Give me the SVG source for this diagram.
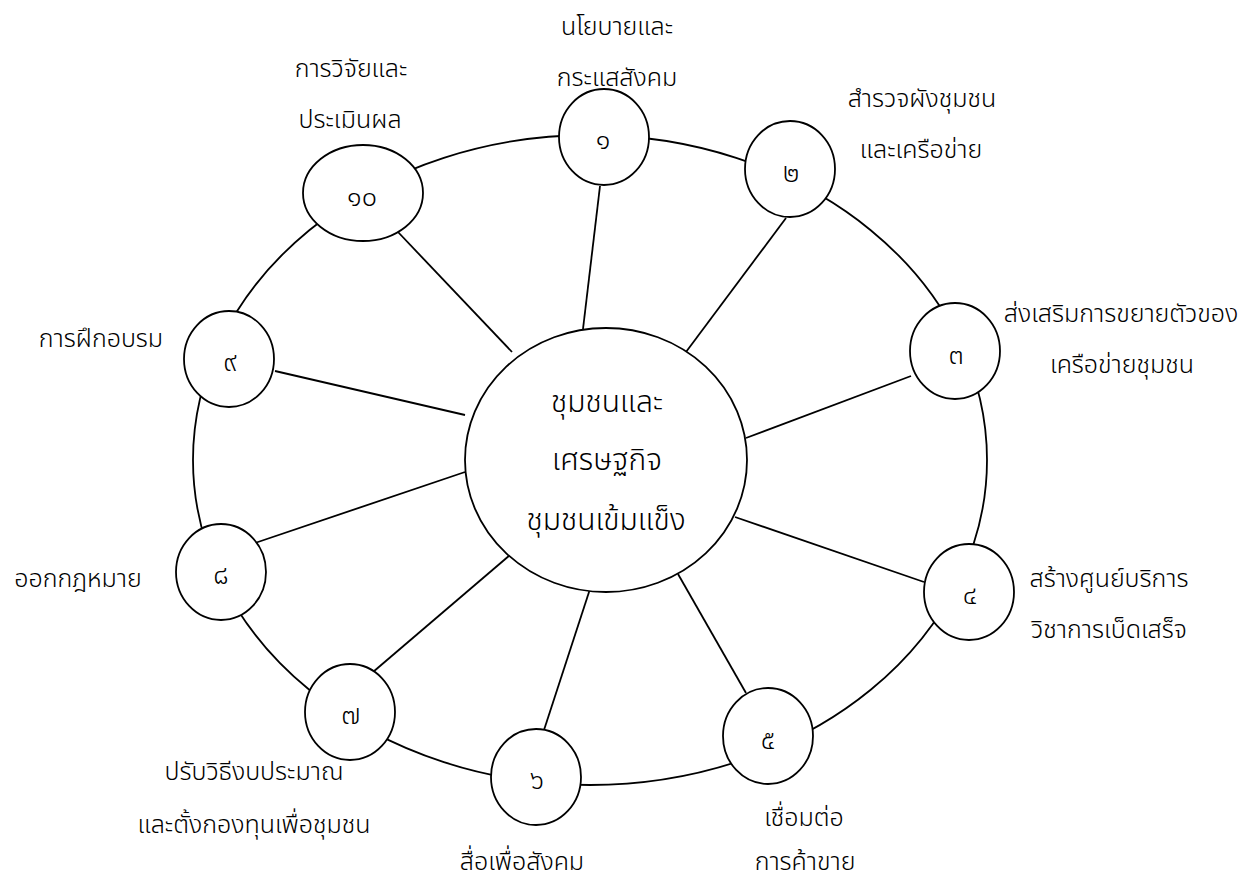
<svg xmlns="http://www.w3.org/2000/svg" width="1258" height="880" viewBox="0 0 1258 880">
<style>
.ln{stroke:#000;stroke-width:1.8;fill:none}
.nd{stroke:#000;stroke-width:1.8;fill:#fff}
.lb{font-family:"Noto Sans Thai","Noto Sans","DejaVu Sans",sans-serif;font-size:25px;font-weight:300;fill:#000;text-anchor:middle}
.num{font-family:"Noto Sans Thai","Noto Sans","DejaVu Sans",sans-serif;font-size:27px;font-weight:300;fill:#000;text-anchor:middle}
.ct{font-family:"Noto Sans Thai","Noto Sans","DejaVu Sans",sans-serif;font-size:30px;font-weight:300;fill:#000;text-anchor:middle}
</style>
<rect width="1258" height="880" fill="#fff"/>
<g id="connectors">
<ellipse class="ln" cx="590" cy="460" rx="397" ry="325"/>
<line class="ln" x1="600" y1="186" x2="583" y2="329"/>
<line class="ln" x1="786" y1="218" x2="686" y2="352"/>
<line class="ln" x1="911" y1="376" x2="746" y2="438"/>
<line class="ln" x1="924" y1="582" x2="735" y2="517"/>
<line class="ln" x1="746" y1="693" x2="678" y2="574"/>
<line class="ln" x1="544" y1="730" x2="590" y2="589"/>
<line class="ln" x1="373" y1="672" x2="510" y2="555"/>
<line class="ln" x1="255" y1="543" x2="465" y2="472"/>
<line class="ln" x1="275" y1="371" x2="465" y2="415"/>
<line class="ln" x1="398" y1="232" x2="512" y2="352"/>
</g>
<g id="center">
<ellipse class="nd" cx="606" cy="460" rx="141" ry="132"/>
<text class="ct" x="607" y="412">ชุมชนและ</text>
<text class="ct" x="607" y="470">เศรษฐกิจ</text>
<text class="ct" x="606" y="530">ชุมชนเข้มแข็ง</text>
</g>
<g id="n1">
<ellipse class="nd" cx="604" cy="137" rx="45" ry="48"/>
<text class="num" x="603" y="149">๑</text>
<text class="lb" x="617" y="35">นโยบายและ</text>
<text class="lb" x="617" y="86">กระแสสังคม</text>
</g>
<g id="n2">
<ellipse class="nd" cx="790" cy="169" rx="45" ry="48"/>
<text class="num" x="791" y="182">๒</text>
<text class="lb" x="922" y="107">สำรวจผังชุมชน</text>
<text class="lb" x="921" y="158">และเครือข่าย</text>
</g>
<g id="n3">
<ellipse class="nd" cx="955" cy="351" rx="45" ry="48"/>
<text class="num" x="956" y="364">๓</text>
<text class="lb" x="1121" y="322">ส่งเสริมการขยายตัวของ</text>
<text class="lb" x="1122" y="373">เครือข่ายชุมชน</text>
</g>
<g id="n4">
<ellipse class="nd" cx="969" cy="592" rx="45" ry="48"/>
<text class="num" x="970" y="604">๔</text>
<text class="lb" x="1109" y="587">สร้างศูนย์บริการ</text>
<text class="lb" x="1109" y="638">วิชาการเบ็ดเสร็จ</text>
</g>
<g id="n5">
<ellipse class="nd" cx="768" cy="736" rx="45" ry="48"/>
<text class="num" x="768" y="749">๕</text>
<text class="lb" x="804" y="826">เชื่อมต่อ</text>
<text class="lb" x="805" y="870">การค้าขาย</text>
</g>
<g id="n6">
<ellipse class="nd" cx="536" cy="777" rx="45" ry="48"/>
<text class="num" x="537" y="789">๖</text>
<text class="lb" x="522" y="870">สื่อเพื่อสังคม</text>
</g>
<g id="n7">
<ellipse class="nd" cx="350" cy="712" rx="45" ry="48"/>
<text class="num" x="351" y="724">๗</text>
<text class="lb" x="254" y="780">ปรับวิธีงบประมาณ</text>
<text class="lb" x="254" y="833">และตั้งกองทุนเพื่อชุมชน</text>
</g>
<g id="n8">
<ellipse class="nd" cx="221" cy="572" rx="45" ry="48"/>
<text class="num" x="221" y="584">๘</text>
<text class="lb" x="78" y="587">ออกกฎหมาย</text>
</g>
<g id="n9">
<ellipse class="nd" cx="229" cy="359" rx="45" ry="48"/>
<text class="num" x="230" y="371">๙</text>
<text class="lb" x="101" y="347">การฝึกอบรม</text>
</g>
<g id="n10">
<ellipse class="nd" cx="363" cy="193" rx="60" ry="48"/>
<text class="num" x="362" y="206">๑๐</text>
<text class="lb" x="351" y="77">การวิจัยและ</text>
<text class="lb" x="350" y="128">ประเมินผล</text>
</g>
</svg>
